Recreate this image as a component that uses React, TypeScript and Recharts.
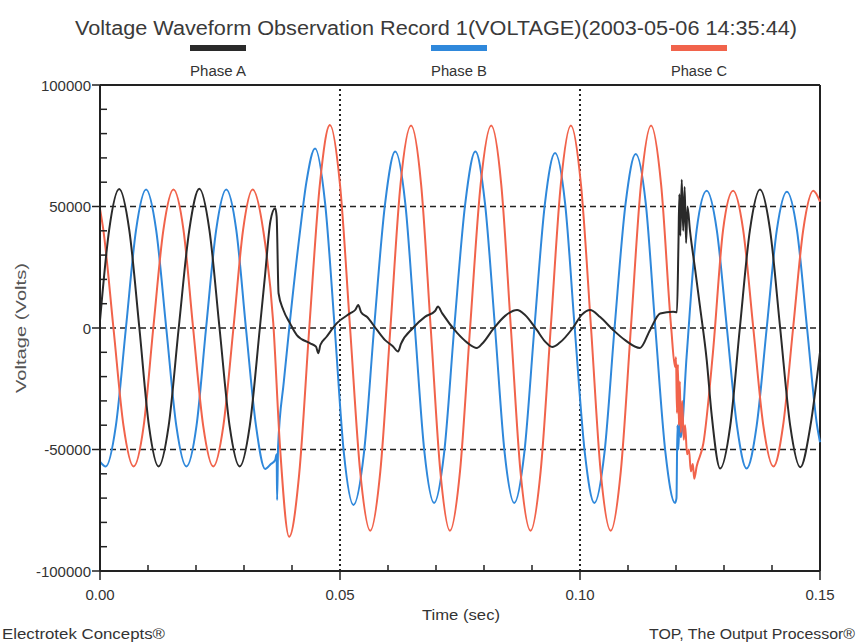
import { LineChart, Line, XAxis, YAxis, ReferenceLine } from "recharts";

// time (s), voltage (V) pairs
const phaseA: [number, number][] = [
  [0.0, 3000], [0.0019, 40300], [0.004, 57200], [0.0061, 40300], [0.0082, 0], [0.0102, -40300],
  [0.0122, -57000], [0.0143, -40300], [0.0164, 0], [0.0186, 40300], [0.0207, 57300], [0.0228, 40300],
  [0.0249, 0], [0.027, -40300], [0.0291, -57000], [0.0312, -40300], [0.0333, 0], [0.0344, 22000],
  [0.0355, 44000], [0.0365, 49300], [0.0368, 45800], [0.0372, 14300], [0.0382, 7400], [0.0396, 1900],
  [0.041, -2900], [0.0438, -6300], [0.045, -7700], [0.0455, -10400], [0.0459, -7000], [0.0472, -3600],
  [0.0493, 1900], [0.0521, 6000], [0.0532, 7500], [0.0538, 9500], [0.0544, 6500], [0.0556, 4600],
  [0.0577, -800], [0.0594, -5000], [0.061, -7500], [0.0621, -9700], [0.0627, -6500], [0.0652, 0],
  [0.0677, 4600], [0.0698, 7000], [0.0704, 8800], [0.0713, 6000], [0.0744, -2000], [0.0765, -6000],
  [0.0785, -8200], [0.0796, -6500], [0.0819, -500], [0.0844, 5000], [0.0869, 7400], [0.0885, 5500],
  [0.091, -800], [0.0927, -5500], [0.0942, -7800], [0.0958, -6000], [0.0985, 0], [0.1004, 5500],
  [0.1021, 7400], [0.1042, 4500], [0.1069, -800], [0.1094, -5000], [0.1125, -8200], [0.1146, -800],
  [0.1167, 6000], [0.1194, 6700], [0.1202, 6500], [0.1205, 33500], [0.1207, 55000], [0.1209, 38000],
  [0.1212, 61000], [0.1215, 40000], [0.1218, 58000], [0.1221, 35000], [0.1224, 50000], [0.1229, 40300],
  [0.124, 23900], [0.125, 8800], [0.1264, -13200], [0.1274, -35100], [0.1292, -57800], [0.1313, -40300],
  [0.1333, 0], [0.1354, 40300], [0.1375, 57000], [0.1396, 40300], [0.1417, 0], [0.1438, -40300],
  [0.1459, -57300], [0.148, -40300], [0.15, -10000],
];

const phaseB: [number, number][] = [
  [0.0, -55000], [0.0012, -57000], [0.0033, -40300], [0.0054, 0], [0.0075, 40300], [0.0096, 57000],
  [0.0117, 40300], [0.0138, 0], [0.0159, -40300], [0.018, -57000], [0.0201, -40300], [0.0221, 0],
  [0.0242, 40300], [0.0263, 57000], [0.0284, 40300], [0.0304, 0], [0.0325, -40300], [0.0344, -58000],
  [0.0356, -56000], [0.0365, -54300], [0.0368, -52000], [0.0369, -70800], [0.0371, -49000], [0.0383, -22000],
  [0.0396, 3300], [0.0417, 40300], [0.043, 60000], [0.0448, 73900], [0.0469, 51300], [0.0489, 0],
  [0.0508, -51300], [0.0528, -72800], [0.055, -51300], [0.0571, 0], [0.0594, 51300], [0.0615, 72600],
  [0.0636, 51300], [0.0656, 0], [0.0676, -51300], [0.0696, -72000], [0.0717, -51300], [0.0738, 0],
  [0.0761, 51300], [0.0782, 72600], [0.0802, 51300], [0.0823, 0], [0.0843, -51300], [0.0863, -72000],
  [0.0884, -51300], [0.0905, 0], [0.0927, 51300], [0.0948, 72000], [0.0969, 51300], [0.0989, 0],
  [0.101, -51300], [0.103, -72000], [0.1051, -51300], [0.1072, 0], [0.1095, 51300], [0.1116, 71600],
  [0.1137, 51300], [0.1157, 0], [0.1178, -51300], [0.1198, -72000], [0.1201, -70000], [0.1203, -40000],
  [0.1205, -50000], [0.1207, -38000], [0.121, -45000], [0.1222, -12000], [0.1243, 40300], [0.1264, 56500],
  [0.1285, 40300], [0.1306, 0], [0.1327, -40300], [0.1347, -57800], [0.1368, -40300], [0.1389, 0],
  [0.141, 40300], [0.1431, 56100], [0.1452, 40300], [0.1473, 0], [0.1494, -40300], [0.15, -47000],
];

const phaseC: [number, number][] = [
  [0.0, 49000], [0.0007, 40300], [0.0028, 0], [0.0049, -40300], [0.007, -57000], [0.0091, -40300],
  [0.0111, 0], [0.0132, 40300], [0.0153, 57000], [0.0174, 40300], [0.0194, 0], [0.0215, -40300],
  [0.0236, -57000], [0.0257, -40300], [0.0278, 0], [0.0298, 40300], [0.0318, 57000], [0.034, 40300],
  [0.0361, 2000], [0.0375, -48800], [0.0394, -85900], [0.0415, -60000], [0.0436, 0], [0.0458, 59000],
  [0.0479, 83500], [0.05, 59000], [0.0521, 0], [0.0542, -59000], [0.0563, -83400], [0.0584, -59000],
  [0.0605, 0], [0.0626, 59000], [0.0648, 83300], [0.0669, 59000], [0.0689, 0], [0.0709, -59000],
  [0.0729, -83400], [0.075, -59000], [0.0771, 0], [0.0793, 59000], [0.0815, 83300], [0.0836, 59000],
  [0.0856, 0], [0.0876, -59000], [0.0897, -83400], [0.0918, -59000], [0.0939, 0], [0.096, 59000],
  [0.0981, 83300], [0.1002, 59000], [0.1023, 0], [0.1043, -59000], [0.1064, -83400], [0.1085, -59000],
  [0.1106, 0], [0.1127, 59000], [0.1148, 83300], [0.1169, 59000], [0.119, 0], [0.1198, -16000],
  [0.12, -12000], [0.1202, -35000], [0.1204, -15000], [0.1206, -40000], [0.1208, -22000], [0.121, -43000],
  [0.1213, -30000], [0.1216, -46000], [0.1219, -40000], [0.1223, -52000], [0.1227, -50000], [0.1231, -59000],
  [0.1235, -56000], [0.1238, -62000], [0.1243, -57000], [0.1257, -47500], [0.1277, -10000], [0.1298, 40300],
  [0.1319, 56500], [0.134, 40300], [0.1361, 0], [0.1382, -40300], [0.1403, -57000], [0.1423, -40300],
  [0.1444, 0], [0.1465, 40300], [0.1486, 56500], [0.15, 52000],
];

const timeTicks = [0, 0.01, 0.02, 0.03, 0.04, 0.05, 0.06, 0.07, 0.08, 0.09, 0.1, 0.11, 0.12, 0.13, 0.14, 0.15];
const voltTicks = [
  -100000, -90000, -80000, -70000, -60000, -50000, -40000, -30000, -20000, -10000, 0,
  10000, 20000, 30000, 40000, 50000, 60000, 70000, 80000, 90000, 100000,
];
const gridVolts = [50000, 0, -50000];
const gridTimes = [0.05, 0.1];

const series = [
  { name: "Phase B", points: phaseB, color: "#2f88db" },
  { name: "Phase C", points: phaseC, color: "#f1634b" },
  { name: "Phase A", points: phaseA, color: "#2a2a2a" },
];
const legendOrder = [
  { name: "Phase A", color: "#2a2a2a", cx: 218 },
  { name: "Phase B", color: "#2f88db", cx: 459 },
  { name: "Phase C", color: "#f1634b", cx: 699 },
];

const FONT = "'Liberation Sans', Arial, sans-serif";
const INK = "#222";

function VoltTick(props: any) {
  const { x, y, payload } = props;
  const v = payload.value;
  const major = v % 50000 === 0;
  if (!major) {
    return <line x1={x} y1={y} x2={x + 7} y2={y} stroke={INK} strokeWidth={1.5} />;
  }
  return (
    <g>
      <line x1={x - 8} y1={y} x2={x} y2={y} stroke={INK} strokeWidth={1.5} />
      <text x={x - 9} y={y} textAnchor="end" dominantBaseline="central" fontSize={15} fill="#333" fontFamily={FONT}>
        {v}
      </text>
    </g>
  );
}

function TimeTick(props: any) {
  const { x, y, payload } = props;
  const v = payload.value;
  const major = Math.abs(v * 20 - Math.round(v * 20)) < 1e-6;
  if (!major) {
    return <line x1={x} y1={y} x2={x} y2={y - 6} stroke={INK} strokeWidth={1.5} />;
  }
  return (
    <g>
      <line x1={x} y1={y} x2={x} y2={y + 9} stroke={INK} strokeWidth={1.5} />
      <text x={x} y={y + 23} textAnchor="middle" dominantBaseline="central" fontSize={15} fill="#333" fontFamily={FONT}>
        {v.toFixed(2)}
      </text>
    </g>
  );
}

export default function App() {
  return (
    <div style={{ position: "absolute", left: 0, top: 0, width: 862, height: 643, background: "#fff" }}>
      <LineChart width={862} height={643} margin={{ top: 85, right: 42, bottom: 42, left: 40 }}>
        <XAxis
          type="number"
          dataKey="t"
          domain={[0, 0.15]}
          ticks={timeTicks}
          interval={0}
          tick={<TimeTick />}
          tickLine={false}
          tickSize={0}
          tickMargin={0}
          height={30}
          axisLine={{ stroke: INK, strokeWidth: 2 }}
        />
        <YAxis
          type="number"
          domain={[-100000, 100000]}
          ticks={voltTicks}
          interval={0}
          tick={<VoltTick />}
          tickLine={false}
          tickSize={0}
          tickMargin={0}
          width={60}
          axisLine={{ stroke: INK, strokeWidth: 2 }}
        />
        {gridVolts.map((v) => (
          <ReferenceLine key={"h" + v} y={v} stroke={INK} strokeWidth={1.6} strokeDasharray="6 4" />
        ))}
        {gridTimes.map((t) => (
          <ReferenceLine key={"v" + t} x={t} stroke={INK} strokeWidth={2} strokeDasharray="2 3" />
        ))}
        <ReferenceLine y={100000} stroke={INK} strokeWidth={2} />
        <ReferenceLine x={0.15} stroke={INK} strokeWidth={2} />
        {series.map((s) => (
          <Line
            key={s.name}
            name={s.name}
            data={s.points.map(([t, v]) => ({ t, v }))}
            dataKey="v"
            type="monotone"
            stroke={s.color}
            strokeWidth={2}
            dot={false}
            isAnimationActive={false}
          />
        ))}
      </LineChart>
      <svg
        width={862}
        height={643}
        style={{ position: "absolute", left: 0, top: 0, pointerEvents: "none" }}
        fontFamily={FONT}
      >
        <text x={436} y={28} textAnchor="middle" dominantBaseline="central" fontSize={20} fill="#3a3a3a" textLength={722} lengthAdjust="spacingAndGlyphs">
          Voltage Waveform Observation Record 1(VOLTAGE)(2003-05-06 14:35:44)
        </text>
        {legendOrder.map((l) => (
          <g key={l.name}>
            <rect x={l.cx - 28} y={45} width={56} height={6} fill={l.color} />
            <text x={l.cx} y={71} textAnchor="middle" dominantBaseline="central" fontSize={14} fill="#333" textLength={56} lengthAdjust="spacingAndGlyphs">
              {l.name}
            </text>
          </g>
        ))}
        <text x={20} y={328} transform="rotate(-90 20 328)" textAnchor="middle" dominantBaseline="central" fontSize={15} fill="#555" textLength={130} lengthAdjust="spacingAndGlyphs">
          Voltage (Volts)
        </text>
        <text x={461} y={614} textAnchor="middle" dominantBaseline="central" fontSize={15} fill="#333" textLength={78} lengthAdjust="spacingAndGlyphs">
          Time (sec)
        </text>
        <text x={2} y={634} dominantBaseline="central" fontSize={14} fill="#333" textLength={163} lengthAdjust="spacingAndGlyphs">
          Electrotek Concepts®
        </text>
        <text x={649} y={634} dominantBaseline="central" fontSize={14} fill="#333" textLength={206} lengthAdjust="spacingAndGlyphs">
          TOP, The Output Processor®
        </text>
      </svg>
    </div>
  );
}
